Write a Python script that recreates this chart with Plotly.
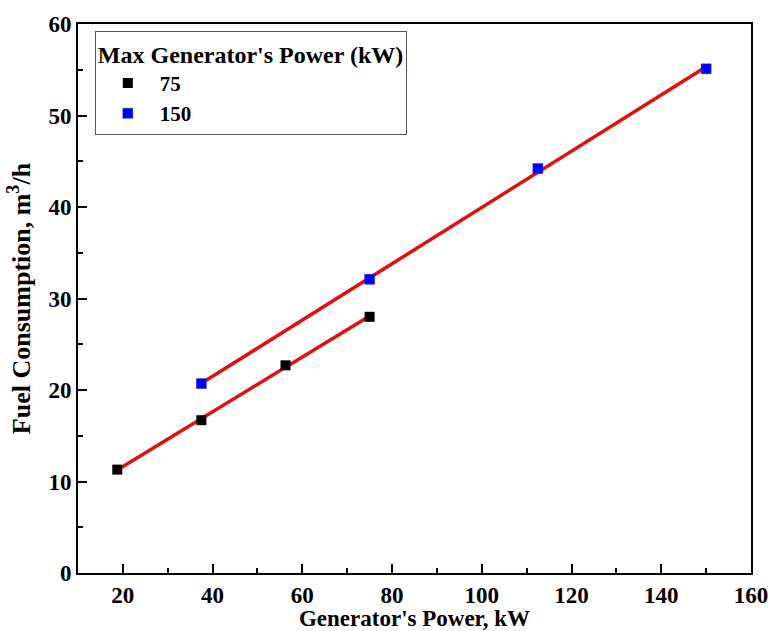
import numpy as np
import plotly.graph_objects as go

x75 = [18.75, 37.5, 56.25, 75]
y75 = [11.3, 16.7, 22.7, 28.0]
x150 = [37.5, 75, 112.5, 150]
y150 = [20.7, 32.1, 44.2, 55.1]

FONT = "Liberation Serif"

fig = go.Figure()

for xs, ys in [(x75, y75), (x150, y150)]:
    k, b = np.polyfit(xs, ys, 1)
    xf = np.array([min(xs), max(xs)])
    fig.add_trace(go.Scatter(x=xf, y=k * xf + b, mode="lines",
                             line=dict(color="#e01010", width=3.5),
                             showlegend=False, hoverinfo="skip"))

fig.add_trace(go.Scatter(x=x75, y=y75, mode="markers", name="75",
                         marker=dict(symbol="square", size=10, color="black")))
fig.add_trace(go.Scatter(x=x150, y=y150, mode="markers", name="150",
                         marker=dict(symbol="square", size=10, color="#0000ff",
                                     line=dict(color="#333399", width=0.5))))

axis_common = dict(showline=True, linecolor="black", linewidth=2, mirror=True,
                   ticks="inside", ticklen=9, tickwidth=2, tickcolor="black",
                   showgrid=False, zeroline=False, automargin=False,
                   tickfont=dict(family=FONT, size=23, color="black", weight="bold"),
                   minor=dict(ticks="inside", ticklen=5, tickwidth=2, tickcolor="black"))

fig.update_xaxes(range=[10, 160], tickvals=[20, 40, 60, 80, 100, 120, 140, 160],
                 minor_dtick=10,
                 title=dict(text="Generator's Power, kW", standoff=0,
                            font=dict(family=FONT, size=23, color="black", weight="bold")),
                 **axis_common)
fig.update_yaxes(range=[0, 60], dtick=10, minor_dtick=5,
                 title=dict(text="Fuel Consumption, m<sup>3</sup>/h", standoff=10,
                            font=dict(family=FONT, size=26, color="black", weight="bold")),
                 **axis_common)

fig.update_layout(
    width=771, height=631,
    margin=dict(l=78, r=20, t=24, b=58),
    plot_bgcolor="white", paper_bgcolor="white",
    legend=dict(x=0.025, y=0.988, xanchor="left", yanchor="top",
                bgcolor="white", bordercolor="#555555", borderwidth=1,
                title=dict(text="Max Generator's Power (kW)",
                           font=dict(family=FONT, size=24, color="black", weight="bold")),
                font=dict(family=FONT, size=21, color="black", weight="bold"),
                itemwidth=54, tracegroupgap=0),
)

fig.write_html("out.html")
